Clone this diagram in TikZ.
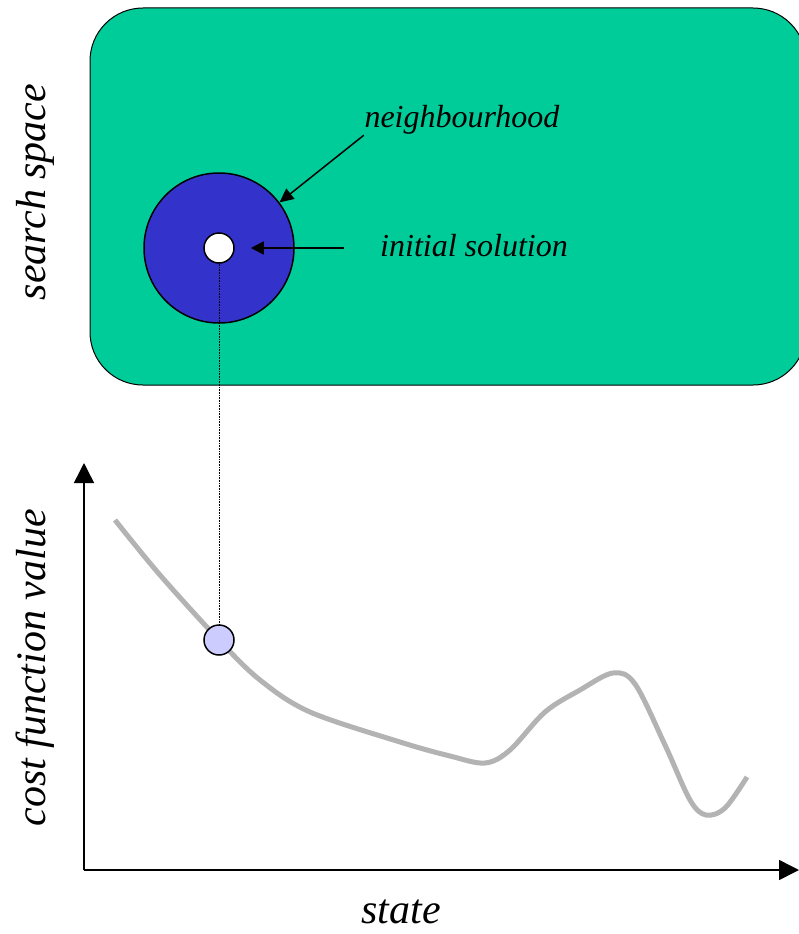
\documentclass[tikz,border=0pt]{standalone}
\usepackage{fontspec}
\setmainfont{Liberation Serif}
\usetikzlibrary{arrows.meta}
\definecolor{spacegreen}{RGB}{0,204,153}
\definecolor{nbhblue}{RGB}{51,51,204}
\definecolor{ptlilac}{RGB}{204,204,255}
\definecolor{costgray}{RGB}{179,179,179}
\tikzset{
  lbl/.style={inner sep=0pt,font=\fontsize{32}{38}\selectfont\itshape},
  axlbl/.style={inner sep=0pt,font=\fontsize{42}{50}\selectfont\itshape},
  dot/.style={circle,draw,line width=1.5pt,minimum size=30pt,inner sep=0pt}
}

\begin{document}
\begin{tikzpicture}[x=1pt,y=-1pt,line width=1.5pt]
% 页面范围 799 x 934
\clip (0,0) rectangle (799,934);
\fill[white] (0,0) rectangle (799,934);
% 搜索空间（圆角矩形，右侧越出画面）
\draw[fill=spacegreen,line width=1pt,rounded corners=53pt] (90,8) rectangle (806,385);
\node[axlbl,rotate=90] (ss) at (35,192) {search space};
% 邻域与初始解
\node[circle,draw,fill=nbhblue,minimum size=150pt,inner sep=0pt] (nbh) at (219,248) {};
\node[dot,fill=white] (sol) at (219,248) {};
\node[lbl] (nb) at (462,120) {neighbourhood};
\node[lbl] (init) at (474,246) {initial solution};
\draw[-{Triangle[length=14pt,width=13pt]}] (nb.south west) -- (nbh.37);
\draw[-{Triangle[length=13pt,width=13pt]},shorten <=35pt,shorten >=16pt] (init.west |- sol.east) -- (sol.east);
% 坐标轴
\coordinate (O) at (84,870);
\coordinate (ytop) at (84,463);
\coordinate (xend) at (799,870);
\draw[-{Triangle[length=20pt,width=20pt]}] (O) -- (ytop);
\draw[-{Triangle[length=20pt,width=20pt]}] (O) -- (xend);
\node[axlbl,rotate=90] (cf) at (35,668) {cost function value};
\node[axlbl] (st) at (401,912) {state};
% 代价曲线
\draw[costgray,line width=5pt] plot[smooth,tension=0.55] coordinates {
  (115,520) (160,575) (219,640) (260,680) (310,712) (400,742) (450,756)
  (485,763) (510,750) (545,712) (580,690) (613,673) (635,684) (665,745)
  (690,800) (706,815) (725,808) (747,777)};
% 初始解在曲线上的位置
\node[dot,fill=ptlilac] (cur) at (219,640) {};
\draw[densely dotted,line width=0.6pt] (sol.south) -- (cur.north);
\end{tikzpicture}
\end{document}
